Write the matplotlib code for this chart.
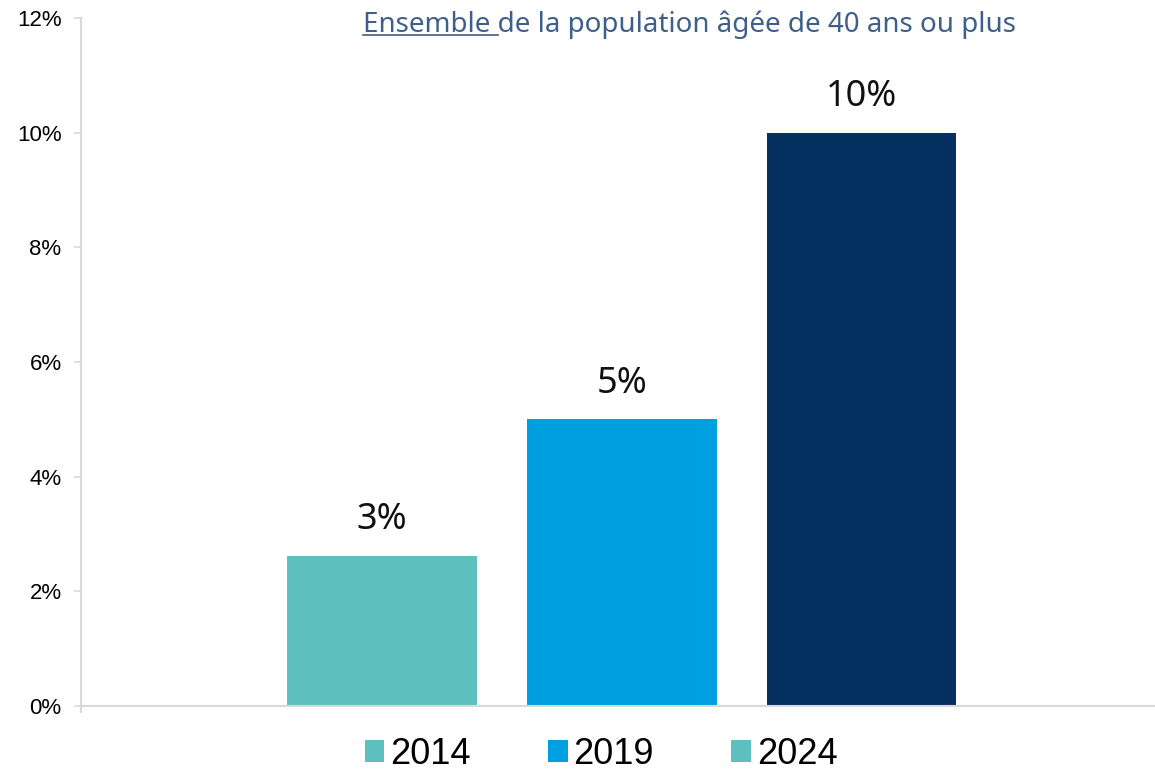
import matplotlib.pyplot as plt
from matplotlib.patches import Patch
from matplotlib.lines import Line2D
from matplotlib.ticker import FuncFormatter

# Share of the population aged 40+ (fraction), by survey year
years = ["2014", "2019", "2024"]
shares = [0.0262, 0.050, 0.100]
bar_colors = ["#5EBFBF", "#009FE0", "#04315F"]
legend_colors = ["#5EBFBF", "#009FE0", "#5EBFBF"]
yticks = [0.0, 0.02, 0.04, 0.06, 0.08, 0.10, 0.12]
title_underlined = "Ensemble"
title_text = "Ensemble de la population âgée de 40 ans ou plus"

W, H, DPI = 1155, 770, 100
fig = plt.figure(figsize=(W / DPI, H / DPI), dpi=DPI)
ax = fig.add_axes([81 / W, 64 / H, 1 - 81 / W, 688 / H])

x = list(range(len(years)))
ax.bar(x, shares, width=0.79, color=bar_colors, zorder=2)

for xi, v in zip(x, shares):
    ax.annotate(f"{v * 100:.0f}%", (xi, v), xytext=(0, 12.5), textcoords="offset points",
                ha="center", va="bottom", fontsize=26, family="Noto Sans", color="#111111")

ax.set_xlim(-1.256, 3.223)
ax.set_ylim(0, 0.12)
ax.set_yticks(yticks)
ax.yaxis.set_major_formatter(FuncFormatter(lambda v, _: f"{v * 100:.0f}%"))
ax.set_xticks([])
for lab in ax.get_yticklabels():
    lab.set_family("Liberation Sans")
    lab.set_fontsize(16)
ax.tick_params(axis="y", length=5, width=1.2, color="#D9D9D9", pad=9)

for side in ["top", "right"]:
    ax.spines[side].set_visible(False)
for side in ["left", "bottom"]:
    ax.spines[side].set_color("#D9D9D9")
    ax.spines[side].set_linewidth(1.5)
ax.spines["left"].set_bounds(-0.0011, 0.12)

# Legend under the plot
handles = [Patch(facecolor=c, edgecolor="none", label=y) for c, y in zip(legend_colors, years)]
fig.legend(handles=handles, loc="center", bbox_to_anchor=(601 / W, 16 / H), ncol=3,
           frameon=False, prop={"family": "Liberation Sans", "size": 26},
           handlelength=0.55, handleheight=0.55, handletextpad=0.15, columnspacing=2.15)

# Title with the first word underlined
title_color = "#3E5F8A"
tx, ty = 363 / W, (H - 32) / H
fig.text(tx, ty, title_text, ha="left", va="baseline", fontsize=20,
         family="Noto Sans", color=title_color)
fig.canvas.draw()
renderer = fig.canvas.get_renderer()
probe = fig.text(tx, ty, title_underlined, ha="left", va="baseline", fontsize=20,
                 family="Noto Sans")
bb = probe.get_window_extent(renderer)
probe.remove()
x_end = (bb.x1 + 0.26 * 20 * DPI / 72) / W
fig.add_artist(Line2D([tx, x_end], [ty - 3 / H, ty - 3 / H], transform=fig.transFigure,
                      color=title_color, linewidth=1.2))

fig.savefig("out.png", dpi=DPI)
